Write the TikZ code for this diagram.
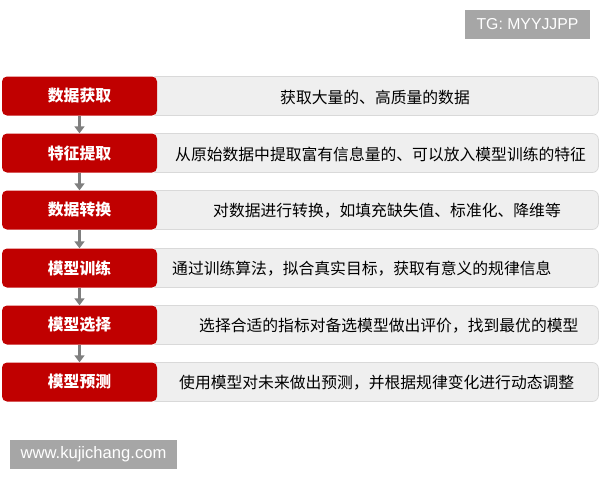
\documentclass[tikz,border=0pt]{standalone}
\usepackage{fontspec}
\setmainfont{Liberation Sans}
\newfontfamily\cjk{Noto Sans CJK SC}
\usetikzlibrary{arrows.meta}
\definecolor{redbox}{HTML}{C00000}
\definecolor{graybg}{HTML}{EFEFEF}
\definecolor{grayln}{HTML}{D9D9D9}
\definecolor{arrowc}{HTML}{7F7F7F}
\definecolor{wmark}{HTML}{A6A6A6}
\tikzset{
  redstep/.style={draw=none, fill=redbox, rounded corners=5pt, minimum width=155pt, minimum height=39pt, inner sep=0pt, text=white, font=\cjk\bfseries\fontsize{15.8}{16}\selectfont},
  graystep/.style={draw=grayln, line width=0.8pt, fill=graybg, rounded corners=6pt, minimum width=448pt, minimum height=39pt, inner sep=0pt, anchor=west},
  desc/.style={anchor=west, inner sep=0pt, font=\cjk\fontsize{15.8}{16}\selectfont, text=black},
  flow/.style={draw=arrowc, line width=3pt, -{Triangle[width=10pt,length=7pt]}},
  wm/.style={fill=wmark, text=white, inner sep=0pt}
}
\begin{document}
\begin{tikzpicture}[x=1pt,y=-1pt]
\useasboundingbox (0,0) rectangle (600,480);
% rows
\foreach \i/\y/\lab/\tx/\txt in {
 1/96/数据获取/280/获取大量的、高质量的数据,
 2/153/特征提取/175/从原始数据中提取富有信息量的、可以放入模型训练的特征,
 3/210/数据转换/213/对数据进行转换，如填充缺失值、标准化、降维等,
 4/268/模型训练/172/通过训练算法，拟合真实目标，获取有意义的规律信息,
 5/325/模型选择/199/选择合适的指标对备选模型做出评价，找到最优的模型,
 6/382/模型预测/179/使用模型对未来做出预测，并根据规律变化进行动态调整}{
  \node[graystep] (g\i) at (150,\y) {};
  \node[redstep] (r\i) at (79.5,\y) {\lab};
  \node[desc] (d\i) at (\tx,\y+1) {\txt};
}
\foreach \a/\b in {1/2,2/3,3/4,4/5,5/6}{
  \draw[flow] (r\a.south) -- (r\b.north);
}
\node[wm, minimum width=125pt, minimum height=29pt, font=\fontsize{15.8}{16}\selectfont] (tg) at (527.5,24.5) {TG: MYYJJPP};
\node[wm, minimum width=167pt, minimum height=29pt, font=\fontsize{16.6}{17}\selectfont] (www) at (93.5,454.5) {www.kujichang.com};
\end{tikzpicture}
\end{document}
